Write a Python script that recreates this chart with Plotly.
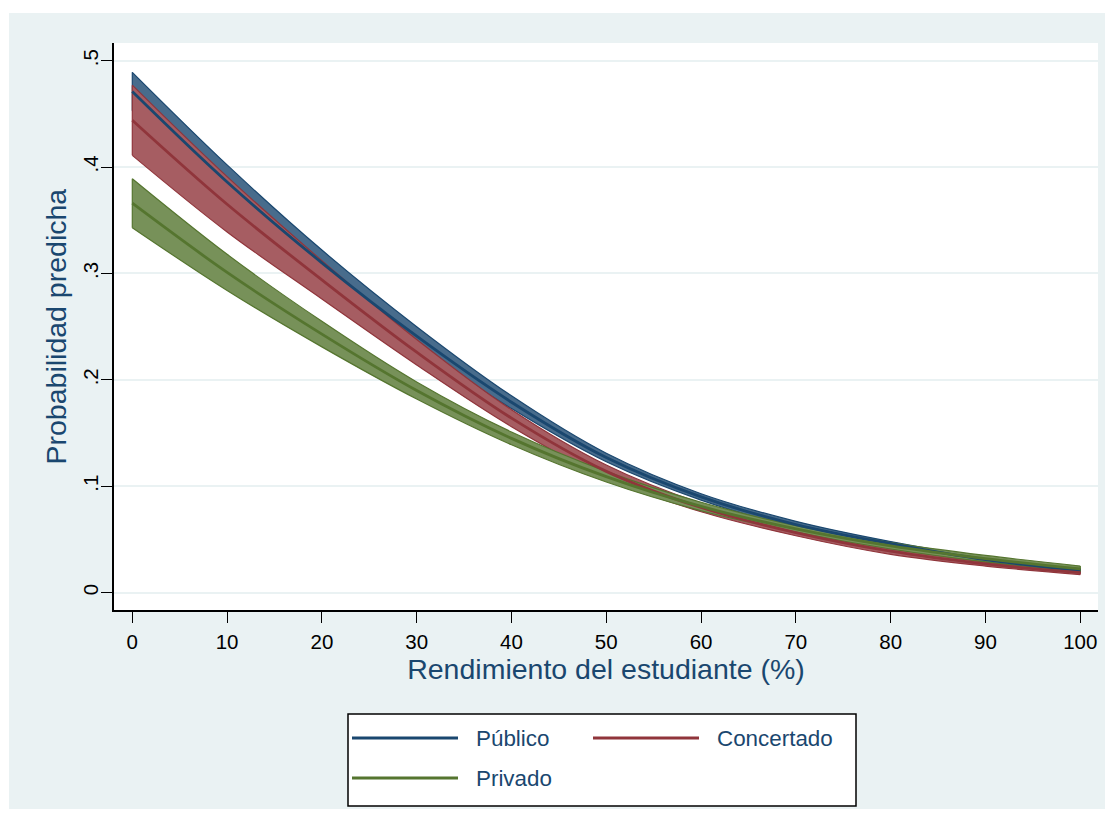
import plotly.graph_objects as go

# ---- data ----
rendimiento = [0, 10, 20, 30, 40, 50, 60, 70, 80, 90, 100]

publico_mean = [0.471, 0.386, 0.310, 0.241, 0.179, 0.127, 0.090, 0.064, 0.046, 0.031, 0.021]
publico_upper = [0.489, 0.402, 0.322, 0.250, 0.185, 0.131, 0.093, 0.067, 0.048, 0.033, 0.023]
publico_lower = [0.453, 0.370, 0.298, 0.232, 0.173, 0.123, 0.087, 0.061, 0.044, 0.029, 0.019]

concertado_mean = [0.444, 0.365, 0.294, 0.226, 0.164, 0.114, 0.080, 0.0565, 0.039, 0.027, 0.0188]
concertado_upper = [0.477, 0.391, 0.312, 0.238, 0.172, 0.120, 0.084, 0.0595, 0.042, 0.029, 0.021]
concertado_lower = [0.411, 0.339, 0.276, 0.214, 0.156, 0.108, 0.076, 0.0535, 0.036, 0.025, 0.017]

privado_mean = [0.366, 0.301, 0.243, 0.190, 0.145, 0.109, 0.081, 0.060, 0.044, 0.032, 0.0223]
privado_upper = [0.389, 0.318, 0.255, 0.198, 0.151, 0.114, 0.085, 0.063, 0.047, 0.035, 0.025]
privado_lower = [0.343, 0.284, 0.231, 0.182, 0.139, 0.104, 0.077, 0.057, 0.041, 0.029, 0.020]

series_names = ["Público", "Concertado", "Privado"]
y_tickvals = [0, 0.1, 0.2, 0.3, 0.4, 0.5]
y_ticktext = ["0", ".1", ".2", ".3", ".4", ".5"]
x_tickvals = [0, 10, 20, 30, 40, 50, 60, 70, 80, 90, 100]

# ---- styles ----
line_cols = ["#1A476F", "#90353B", "#55752F"]
fill_cols = ["rgb(72,108,140)", "rgb(166,93,98)", "rgb(119,145,89)"]
BG = "#EAF2F3"
FONT = "Liberation Sans, Arial, sans-serif"

OFF = 8  # page body margin
W, H = 1113 - OFF, 819 - OFF
PL, PR, PT, PB = 114 - OFF, 1098 - OFF, 43 - OFF, 610 - OFF  # plot area (figure px)

series = [
    (publico_mean, publico_upper, publico_lower),
    (concertado_mean, concertado_upper, concertado_lower),
    (privado_mean, privado_upper, privado_lower),
]

fig = go.Figure()

# confidence bands
for i, (m, up, lo) in enumerate(series):
    fig.add_trace(go.Scatter(x=rendimiento, y=lo, mode="lines",
                             line=dict(color=line_cols[i], width=1.2, shape="spline"),
                             showlegend=False, hoverinfo="skip"))
    fig.add_trace(go.Scatter(x=rendimiento, y=up, mode="lines", fill="tonexty",
                             fillcolor=fill_cols[i],
                             line=dict(color=line_cols[i], width=1.2, shape="spline"),
                             showlegend=False, hoverinfo="skip"))
    for k in (0, -1):
        fig.add_trace(go.Scatter(x=[rendimiento[k], rendimiento[k]], y=[lo[k], up[k]],
                                 mode="lines", line=dict(color=line_cols[i], width=1.2),
                                 showlegend=False, hoverinfo="skip"))

# mean lines
for i, (m, up, lo) in enumerate(series):
    fig.add_trace(go.Scatter(x=rendimiento, y=m, mode="lines", name=series_names[i],
                             line=dict(color=line_cols[i], width=2.8, shape="spline"),
                             showlegend=False))

def px_x(p):  # page pixel -> paper coord
    return (p - OFF - PL) / (PR - PL)

def px_y(p):
    return (PB - (p - OFF)) / (PB - PT)

shapes = [
    dict(type="rect", xref="paper", yref="paper", layer="below",
         x0=px_x(9), x1=px_x(1130), y0=px_y(809), y1=px_y(13),
         fillcolor=BG, line=dict(width=0)),
    dict(type="rect", xref="paper", yref="paper", layer="below",
         x0=0, x1=1, y0=0, y1=1, fillcolor="white", line=dict(width=0)),
    # legend box
    dict(type="rect", xref="paper", yref="paper",
         x0=px_x(348), x1=px_x(856), y0=px_y(806), y1=px_y(714),
         fillcolor="white", line=dict(color="black", width=1.5)),
]

annotations = []
legend_pos = [(352, 458, 474, 738), (593, 699, 715, 738), (352, 458, 474, 778)]
for i, (lx0, lx1, tx, ly) in enumerate(legend_pos):
    shapes.append(dict(type="line", xref="paper", yref="paper",
                       x0=px_x(lx0), x1=px_x(lx1), y0=px_y(ly), y1=px_y(ly),
                       line=dict(color=line_cols[i], width=3)))
    annotations.append(dict(xref="paper", yref="paper", x=px_x(tx), y=px_y(ly),
                            xanchor="left", yanchor="middle", showarrow=False,
                            text=series_names[i],
                            font=dict(family=FONT, size=22.4, color="#1A476F")))

# y-axis title
annotations.append(dict(xref="paper", yref="paper", x=px_x(55), y=0.5,
                        xanchor="center", yanchor="middle", showarrow=False,
                        textangle=-90, text="Probabilidad predicha",
                        font=dict(family=FONT, size=28.5, color="#1A476F")))

fig.update_layout(
    width=W, height=H,
    margin=dict(l=PL, r=W - PR, t=PT, b=H - PB, pad=0),
    paper_bgcolor="white",
    plot_bgcolor="white",
    font=dict(family=FONT, color="black"),
    shapes=shapes,
    annotations=annotations,
    showlegend=False,
)

fig.update_xaxes(
    range=[-1.93, 101.87], tickvals=x_tickvals,
    ticks="outside", ticklen=11, tickwidth=1, tickcolor="black",
    tickfont=dict(family=FONT, size=20.5, color="black"),
    ticklabelstandoff=2,
    showline=True, linecolor="black", linewidth=1.5,
    showgrid=False, zeroline=False,
    title=dict(text="Rendimiento del estudiante (%)",
               font=dict(family=FONT, size=28.5, color="#1A476F"), standoff=2),
)
fig.update_yaxes(
    range=[-0.0163, 0.5166], tickvals=y_tickvals, ticktext=y_ticktext,
    tickangle=-90,
    ticks="outside", ticklen=11, tickwidth=1, tickcolor="black",
    tickfont=dict(family=FONT, size=20.5, color="black"),
    ticklabelstandoff=-5,
    showline=True, linecolor="black", linewidth=1.5,
    showgrid=True, gridcolor=BG, gridwidth=1.5, zeroline=False,
)

fig.write_html("out.html")
